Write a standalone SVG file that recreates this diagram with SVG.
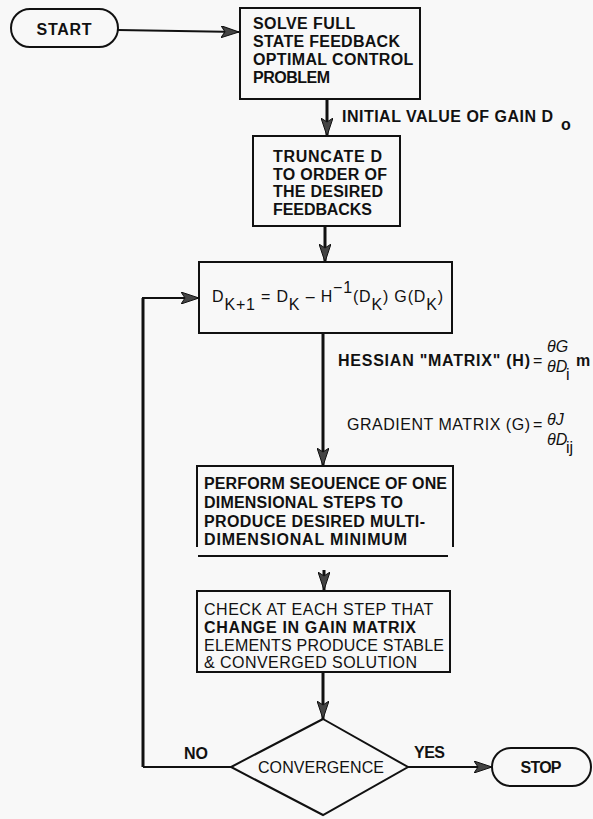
<svg xmlns="http://www.w3.org/2000/svg" width="593" height="819" viewBox="0 0 593 819">
<style>
  .bg { fill: #f8f8f8; }
  .box { fill: none; stroke: #111; stroke-width: 2; }
  .conn { fill: none; stroke: #111; stroke-width: 2; }
  .thick { stroke-width: 3; }
  .t { font-family: "Liberation Sans", Arial, sans-serif; fill: #111; font-size: 16px; }
  .b { font-weight: bold; }
</style>
<defs>
  <marker id="ah" markerUnits="userSpaceOnUse" markerWidth="18" markerHeight="12" refX="18" refY="6" orient="auto">
    <path d="M0,0 L18,6 L0,12 L4,6 z" fill="#444" stroke="#111" stroke-width="1"/>
  </marker>
</defs>
<rect class="bg" x="0" y="0" width="593" height="819"/>

<g id="connectors">
  <line class="conn" x1="118" y1="30" x2="239" y2="32" marker-end="url(#ah)"/>
  <line class="conn thick" x1="327" y1="99" x2="327" y2="136" marker-end="url(#ah)"/>
  <line class="conn thick" x1="325" y1="226" x2="325" y2="262" marker-end="url(#ah)"/>
  <line class="conn thick" x1="323" y1="333" x2="323" y2="466" marker-end="url(#ah)"/>
  <line class="conn thick" x1="324" y1="570" x2="324" y2="590" marker-end="url(#ah)"/>
  <line class="conn thick" x1="323" y1="672" x2="323" y2="719" marker-end="url(#ah)"/>
  <line class="conn" x1="408" y1="767" x2="492" y2="767" marker-end="url(#ah)"/>
  <polyline class="conn" points="231,767 143,767"/>
  <polyline class="conn thick" points="143,767 143,298"/>
  <polyline class="conn" points="142,298 199,298" marker-end="url(#ah)"/>
</g>

<g id="start">
  <rect class="box" x="11" y="9" width="107" height="38" rx="19" ry="19"/>
  <text class="t b" x="64" y="35" text-anchor="middle" font-size="15" textLength="55">START</text>
</g>

<g id="solve">
  <rect class="box" x="240" y="8" width="180" height="91"/>
  <text class="t b">
    <tspan x="253" y="29" textLength="102">SOLVE FULL</tspan>
    <tspan x="253" y="47" textLength="147">STATE FEEDBACK</tspan>
    <tspan x="253" y="65" textLength="160">OPTIMAL CONTROL</tspan>
    <tspan x="253" y="83" textLength="77">PROBLEM</tspan>
  </text>
</g>

<g id="initial-label">
  <text class="t b" x="342" y="122" font-size="15" textLength="211">INITIAL VALUE OF GAIN D</text>
  <text class="t b" x="561" y="130" font-size="13">o</text>
</g>

<g id="truncate">
  <rect class="box" x="253" y="136" width="147" height="90"/>
  <text class="t b">
    <tspan x="273" y="162" textLength="109">TRUNCATE D</tspan>
    <tspan x="273" y="180" textLength="114">TO ORDER OF</tspan>
    <tspan x="273" y="197" textLength="110">THE DESIRED</tspan>
    <tspan x="273" y="215" textLength="99">FEEDBACKS</tspan>
  </text>
</g>

<g id="formula">
  <rect class="box" x="199" y="262" width="253" height="71"/>
  <text class="t" x="212" y="302" font-size="15" textLength="231">D<tspan dy="8">K+1</tspan><tspan dy="-8"> = D</tspan><tspan dy="8">K</tspan><tspan dy="-8"> – H</tspan><tspan dy="-9">−1</tspan><tspan dy="9">(D</tspan><tspan dy="8">K</tspan><tspan dy="-8">) G(D</tspan><tspan dy="8">K</tspan><tspan dy="-8">)</tspan></text>
</g>

<g id="hessian-label">
  <text class="t b" x="338" y="366" font-size="15" textLength="192">HESSIAN "MATRIX" (H)</text>
  <text class="t" x="533" y="366" font-size="15">=</text>
  <text class="t" x="547" y="352" font-size="14" font-style="italic">θG</text>
  <text class="t" x="547" y="372" font-size="14" font-style="italic">θD</text>
  <text class="t" x="566" y="380" font-size="13">i</text>
  <text class="t b" x="576" y="366" font-size="15">m</text>
</g>

<g id="gradient-label">
  <text class="t" x="347" y="430" font-size="15" textLength="183">GRADIENT MATRIX (G)</text>
  <text class="t" x="533" y="430" font-size="15">=</text>
  <text class="t" x="547" y="425" font-size="14" font-style="italic">θJ</text>
  <text class="t" x="547" y="445" font-size="14" font-style="italic">θD</text>
  <text class="t" x="566" y="453" font-size="13">ij</text>
</g>

<g id="perform">
  <polyline class="box" points="197,547 197,466 453,466 453,547"/>
  <line class="box" x1="198" y1="556" x2="448" y2="556"/>
  <text class="t b">
    <tspan x="204" y="489" textLength="243">PERFORM SEOUENCE OF ONE</tspan>
    <tspan x="204" y="508" textLength="199">DIMENSIONAL STEPS TO</tspan>
    <tspan x="204" y="527" textLength="221">PRODUCE DESIRED MULTI-</tspan>
    <tspan x="204" y="545" textLength="203">DIMENSIONAL MINIMUM</tspan>
  </text>
</g>

<g id="check">
  <rect class="box" x="197" y="591" width="253" height="81"/>
  <text class="t">
    <tspan x="204" y="615" textLength="229">CHECK AT EACH STEP THAT</tspan>
    <tspan x="204" y="633" textLength="212" font-weight="bold">CHANGE IN GAIN MATRIX</tspan>
    <tspan x="204" y="651" textLength="240">ELEMENTS PRODUCE STABLE</tspan>
    <tspan x="204" y="668" textLength="213">&amp; CONVERGED SOLUTION</tspan>
  </text>
</g>

<g id="convergence">
  <polygon class="box" points="323,719 408,767 323,815 231,767"/>
  <text class="t" x="258" y="773" font-size="15" textLength="126">CONVERGENCE</text>
</g>

<g id="no-label">
  <text class="t b" x="184" y="759" font-size="15" textLength="24">NO</text>
</g>
<g id="yes-label">
  <text class="t b" x="414" y="758" font-size="15" textLength="31">YES</text>
</g>

<g id="stop">
  <rect class="box" x="492" y="748" width="99" height="38" rx="19" ry="19"/>
  <text class="t b" x="541" y="773" text-anchor="middle" font-size="15" textLength="41">STOP</text>
</g>
</svg>
